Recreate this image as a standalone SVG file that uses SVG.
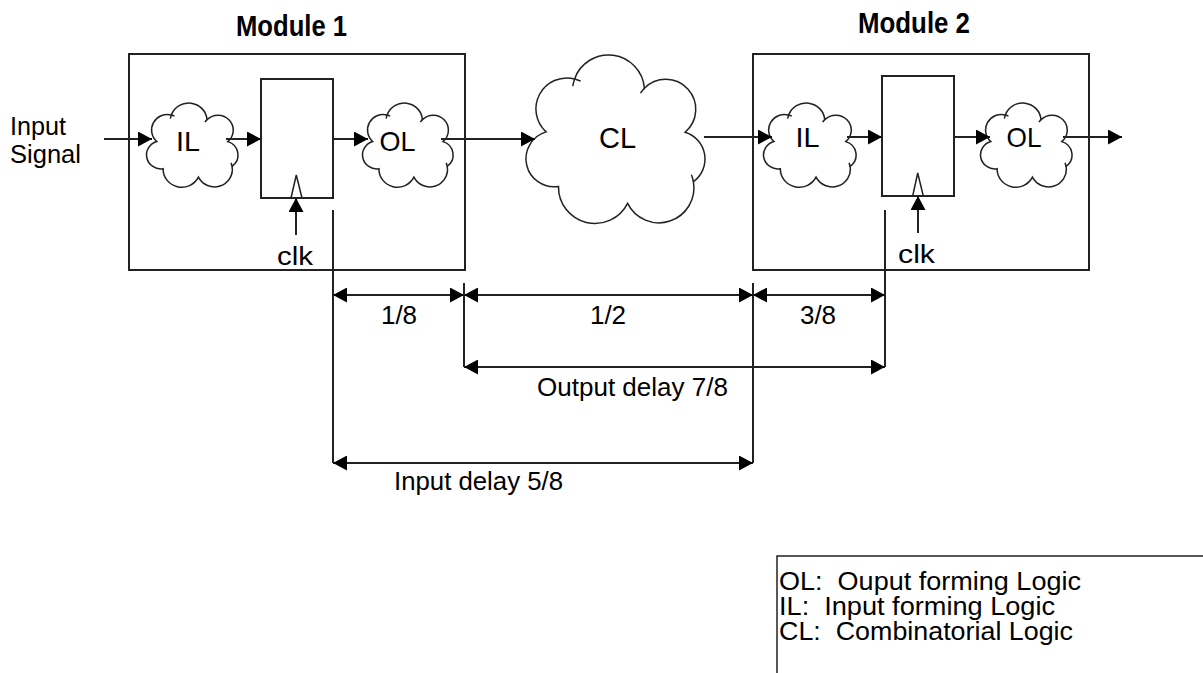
<svg xmlns="http://www.w3.org/2000/svg" xmlns:xlink="http://www.w3.org/1999/xlink" width="1203" height="673" viewBox="0 0 1203 673">
<style>
 text{font-family:"Liberation Sans",Arial,Helvetica,sans-serif;fill:#000}
 .t26{font-size:26px}
 .t28{font-size:28px}
 .title{font-size:30px;font-weight:bold}
 .box{fill:none;stroke:#222;stroke-width:2}
 .reg{fill:#fff;stroke:#222;stroke-width:2}
 .ln{fill:none;stroke:#222;stroke-width:2}
 .clkmark{fill:none;stroke:#222;stroke-width:1.5}
 .arr{fill:none;stroke:#222;stroke-width:2;marker-end:url(#ah)}
 .dim{fill:none;stroke:#222;stroke-width:2;marker-start:url(#ah);marker-end:url(#ah)}
 .cloud{fill:#fff;stroke:#222}
 .small{stroke-width:3}
 .big{stroke-width:1.5}
</style>
<defs>
 <marker id="ah" markerUnits="userSpaceOnUse" markerWidth="14" markerHeight="15" refX="14" refY="7.5" orient="auto-start-reverse" viewBox="0 0 14 15"><path d="M0,0 L14,7.5 L0,15 Z" fill="#000"/></marker>
 <g id="cloudShape">
  <path d="M21.1,76.9 A31,31 0 0 1 49.6,23.9 A36,36 0 0 1 119.4,33.2 A30,30 0 1 1 160.1,77.2 A28,28 0 0 1 168.4,126.7 A35,35 0 0 1 102.6,148.4 A36.5,36.5 0 0 1 33.5,131.4 A28,28 0 0 1 21.1,76.9 Z"/>
  <path fill="none" d="M49.6,23.9 A36,36 0 0 0 47.8,31.2 M49.6,23.9 A31,31 0 0 1 55.7,26.2 M119.4,33.2 A30,30 0 0 0 115.5,38.2 M168.4,126.7 A35,35 0 0 0 166.4,119.7"/>
 </g>
</defs>
<rect width="1203" height="673" fill="#fff"/>

<g id="module1">
 <rect class="box" x="129" y="54" width="336" height="216"/>
 <text class="title" x="236" y="36" textLength="111" lengthAdjust="spacingAndGlyphs">Module 1</text>
</g>
<g id="module2">
 <rect class="box" x="753" y="54" width="336" height="216"/>
 <text class="title" x="858" y="33" textLength="112" lengthAdjust="spacingAndGlyphs">Module 2</text>
</g>

<g id="input-label">
 <text x="10" y="135" style="font-size:25px" textLength="56" lengthAdjust="spacingAndGlyphs">Input</text>
 <text x="10" y="163" style="font-size:25px" textLength="71" lengthAdjust="spacingAndGlyphs">Signal</text>
</g>

<g id="IL1">
 <use xlink:href="#cloudShape" href="#cloudShape" class="cloud small" transform="translate(146,103) scale(0.511,0.5)"/>
 <text class="t28" x="176" y="151" textLength="24" lengthAdjust="spacingAndGlyphs">IL</text>
</g>
<g id="REG1">
 <rect class="reg" x="261" y="79" width="72" height="119"/>
 <polyline class="clkmark" points="291,198 296.3,175 302,198"/>
</g>
<g id="OL1">
 <use xlink:href="#cloudShape" href="#cloudShape" class="cloud small" transform="translate(362,103) scale(0.506,0.5)"/>
 <text class="t28" x="379.5" y="151" textLength="36" lengthAdjust="spacingAndGlyphs">OL</text>
</g>
<g id="clk1">
 <text class="t26" x="277" y="265" textLength="36" lengthAdjust="spacingAndGlyphs">clk</text>
</g>

<g id="CL">
 <use xlink:href="#cloudShape" href="#cloudShape" class="cloud big" transform="translate(525,55)"/>
 <text x="617.5" y="148" text-anchor="middle" style="font-size:29px">CL</text>
</g>

<g id="IL2">
 <use xlink:href="#cloudShape" href="#cloudShape" class="cloud small" transform="translate(763,103) scale(0.517,0.5)"/>
 <text class="t28" x="795.5" y="147" textLength="24" lengthAdjust="spacingAndGlyphs">IL</text>
</g>
<g id="REG2">
 <rect class="reg" x="882" y="76" width="72" height="120"/>
 <polyline class="clkmark" points="912.7,196 917.7,173 923.3,196"/>
</g>
<g id="OL2">
 <use xlink:href="#cloudShape" href="#cloudShape" class="cloud small" transform="translate(980,103) scale(0.511,0.5)"/>
 <text class="t28" x="1006.5" y="147" textLength="35" lengthAdjust="spacingAndGlyphs">OL</text>
</g>
<g id="clk2">
 <text class="t26" x="898" y="263" textLength="37" lengthAdjust="spacingAndGlyphs">clk</text>
</g>

<g id="connectors">
 <line class="arr" x1="104" y1="139" x2="152" y2="139"/>
 <line class="arr" x1="226" y1="139" x2="261" y2="139"/>
 <line class="arr" x1="333" y1="139" x2="368" y2="139"/>
 <line class="arr" x1="441" y1="139" x2="535" y2="139"/>
 <line class="arr" x1="704" y1="137" x2="772" y2="137"/>
 <line class="arr" x1="847" y1="137" x2="882" y2="137"/>
 <line class="arr" x1="954" y1="137" x2="990" y2="137"/>
 <line class="arr" x1="1063" y1="137" x2="1122" y2="137"/>
 <line class="arr" x1="296" y1="235" x2="296" y2="198"/>
 <line class="arr" x1="918" y1="233" x2="918" y2="196"/>
</g>

<g id="dimensions">
 <line class="ln" x1="333" y1="210" x2="333" y2="463"/>
 <line class="ln" x1="464" y1="283" x2="464" y2="367"/>
 <line class="ln" x1="753" y1="283" x2="753" y2="463"/>
 <line class="ln" x1="885" y1="210" x2="885" y2="367"/>
 <line class="dim" x1="333" y1="295" x2="464" y2="295"/>
 <line class="dim" x1="464" y1="295" x2="753" y2="295"/>
 <line class="dim" x1="753" y1="295" x2="885" y2="295"/>
 <line class="dim" x1="464" y1="367" x2="885" y2="367"/>
 <line class="dim" x1="333" y1="463" x2="753" y2="463"/>
 <text class="t26" x="399" y="324" text-anchor="middle">1/8</text>
 <text class="t26" x="608" y="324" text-anchor="middle">1/2</text>
 <text class="t26" x="818" y="324" text-anchor="middle">3/8</text>
 <text class="t26" x="537" y="396" textLength="191" lengthAdjust="spacingAndGlyphs">Output delay 7/8</text>
 <text class="t26" x="394" y="490" textLength="169" lengthAdjust="spacingAndGlyphs">Input delay 5/8</text>
</g>

<g id="legend">
 <rect x="777" y="556" width="440" height="130" fill="none" stroke="#222" stroke-width="1.5"/>
 <text x="779" y="590" style="font-size:25.5px" xml:space="preserve" textLength="302" lengthAdjust="spacingAndGlyphs">OL:  Ouput forming Logic</text>
 <text x="779" y="615" style="font-size:25.5px" xml:space="preserve" textLength="276" lengthAdjust="spacingAndGlyphs">IL:  Input forming Logic</text>
 <text x="779" y="639.5" style="font-size:25.5px" xml:space="preserve" textLength="294" lengthAdjust="spacingAndGlyphs">CL:  Combinatorial Logic</text>
</g>
</svg>
